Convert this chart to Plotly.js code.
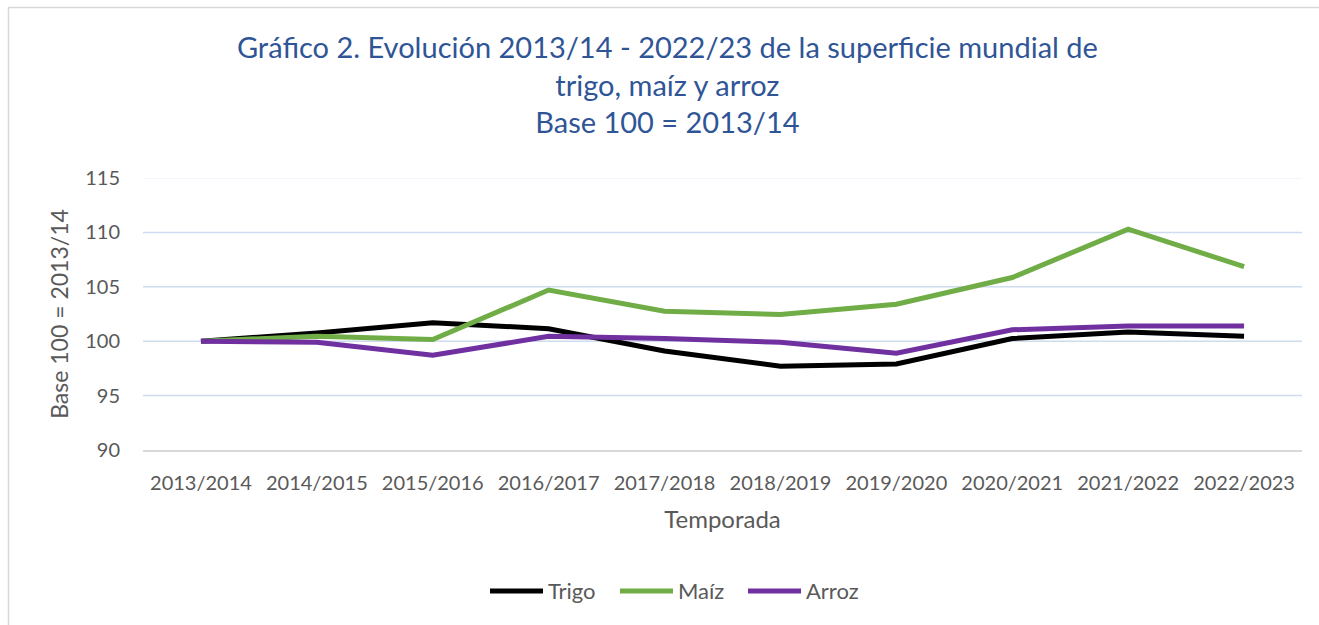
<!DOCTYPE html>
<html>
<head>
<meta charset="utf-8">
<script src="https://cdn.plot.ly/plotly-3.0.1.min.js"></script>
<style>
html,body{margin:0;padding:0;background:#fff;}
#chart{width:1319px;height:625px;}
</style>
</head>
<body>
<div id="chart"></div>
<script>
const temporadas = ["2013/2014","2014/2015","2015/2016","2016/2017","2017/2018","2018/2019","2019/2020","2020/2021","2021/2022","2022/2023"];
const trigo = [100, 100.75, 101.7, 101.15, 99.1, 97.7, 97.9, 100.25, 100.85, 100.45];
const maiz  = [100, 100.45, 100.15, 104.7, 102.75, 102.45, 103.4, 105.85, 110.3, 106.85];
const arroz = [100, 99.9, 98.7, 100.45, 100.25, 99.9, 98.9, 101.05, 101.4, 101.4];
const seriesNames = ["Trigo", "Maíz", "Arroz"];
const seriesColors = ["#000000", "#70AD47", "#7030A0"];
const yTicks = [95, 100, 105, 110, 115];

const FONT = "Lato, 'Open Sans', sans-serif";
const W = 1319, H = 625;
const ML = 143, MR = 17, MT = 178, MB = 175;
const PW = W - ML - MR, PH = H - MT - MB;
const px2x = p => (p - ML) / PW;
const py2y = p => (H - MB - p) / PH;

const data = [trigo, maiz, arroz].map((y, i) => ({
  type: 'scatter', mode: 'lines', name: seriesNames[i], x: temporadas, y: y,
  line: {color: seriesColors[i], width: 5}, showlegend: false
}));

const shapes = [{
  type: 'rect', xref: 'paper', yref: 'paper',
  x0: px2x(8.5), x1: px2x(1340), y0: py2y(640), y1: py2y(7.5),
  line: {color: '#D9D9D9', width: 1.5}, fillcolor: 'rgba(0,0,0,0)', layer: 'below'
}];
// gridlines (top one fainter, as in the original)
yTicks.forEach(v => {
  shapes.push({
    type: 'line', xref: 'paper', yref: 'y', x0: 0, x1: 1, y0: v, y1: v,
    line: {color: v === 115 ? '#EEF2FA' : '#CFDBEF', width: 1.5}, layer: 'below'
  });
});

// custom legend (long line samples like the original)
const legStarts = [490, 620, 748];
const legY = 591;
const annotations = [];
seriesNames.forEach((n, i) => {
  shapes.push({
    type: 'line', xref: 'paper', yref: 'paper',
    x0: px2x(legStarts[i]), x1: px2x(legStarts[i] + 53), y0: py2y(legY), y1: py2y(legY),
    line: {color: seriesColors[i], width: 5}
  });
  annotations.push({
    xref: 'paper', yref: 'paper', x: px2x(legStarts[i] + 56), y: py2y(legY - 1),
    xanchor: 'left', yanchor: 'middle', showarrow: false, text: n,
    font: {family: FONT, size: 22, color: '#595959'}
  });
});

const layout = {
  width: W, height: H,
  paper_bgcolor: '#ffffff', plot_bgcolor: '#ffffff',
  margin: {l: ML, r: MR, t: MT, b: MB},
  font: {family: FONT, color: '#595959', size: 20},
  title: {
    text: 'Gráfico 2. Evolución 2013/14 - 2022/23 de la superficie mundial de<br>trigo, maíz y arroz<br>Base 100 = 2013/14',
    font: {family: FONT, size: 29, color: '#2F5597'},
    x: 0.506, xref: 'container', xanchor: 'center',
    y: 1 - 58/625, yref: 'container', yanchor: 'top'
  },
  xaxis: {
    type: 'category', range: [-0.5, 9.5],
    showgrid: false, zeroline: false,
    showline: true, linecolor: '#D9D9D9', linewidth: 1.5,
    ticks: '', ticklabelstandoff: 14, tickfont: {size: 20, color: '#595959'},
    title: {text: 'Temporada', font: {size: 24, color: '#595959'}, standoff: 18}
  },
  yaxis: {
    range: [90, 115], tickvals: [90].concat(yTicks),
    showgrid: false, zeroline: false, showline: false, ticks: '',
    ticklabelstandoff: 22,
    tickfont: {size: 20, color: '#595959'},
    title: {text: 'Base 100 = 2013/14', font: {size: 23, color: '#595959'}, standoff: 10}
  },
  showlegend: false,
  shapes: shapes,
  annotations: annotations
};

Plotly.newPlot('chart', data, layout, {displayModeBar: false, staticPlot: true});
</script>
</body>
</html>
